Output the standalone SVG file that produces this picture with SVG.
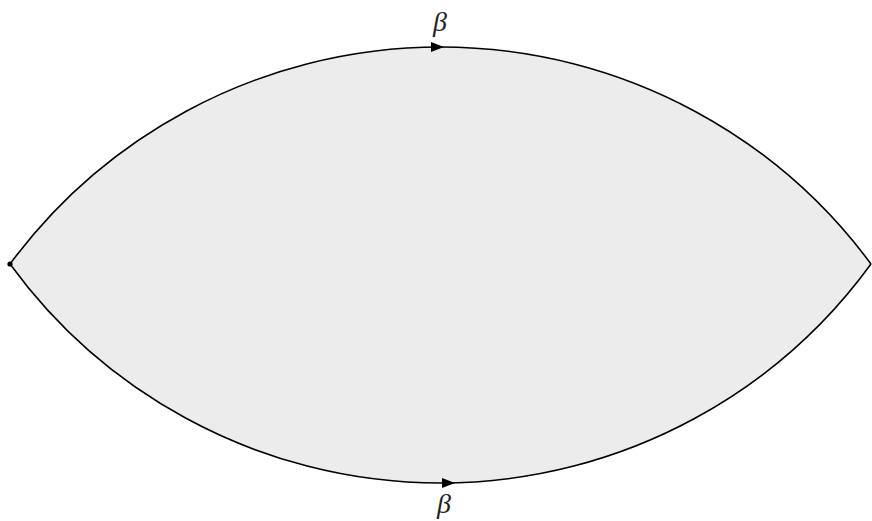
<svg xmlns="http://www.w3.org/2000/svg" width="872" height="521" viewBox="0 0 872 521">
<style>
.edge{fill:none;stroke:#000;stroke-width:1.6}
.lbl{font-family:"Liberation Serif","DejaVu Serif",serif;font-style:italic;font-size:28px;fill:#222}
</style>
<defs>
<path id="tri" d="M-6,-5 L7,0 L-6,5 Z" fill="#000"/>
</defs>
<g id="region">
<path d="M10,264 A535.5,535.5 0 0 1 871,264 A532.6,532.6 0 0 1 10,264 Z" fill="#ececec" stroke="none"/>
</g>
<g id="connectors">
<path class="edge" d="M10,264 A535.5,535.5 0 0 1 871,264"/>
<path class="edge" d="M10,264 A532.6,532.6 0 0 0 871,264"/>
<use href="#tri" x="437" y="47"/>
<use href="#tri" x="448" y="483"/>
</g>
<g id="vertex">
<circle cx="10" cy="264" r="2.6" fill="#000"/>
</g>
<g id="labels">
<text class="lbl" x="440" y="31" text-anchor="middle">β</text>
<text class="lbl" x="444" y="513" text-anchor="middle">β</text>
</g>
</svg>
